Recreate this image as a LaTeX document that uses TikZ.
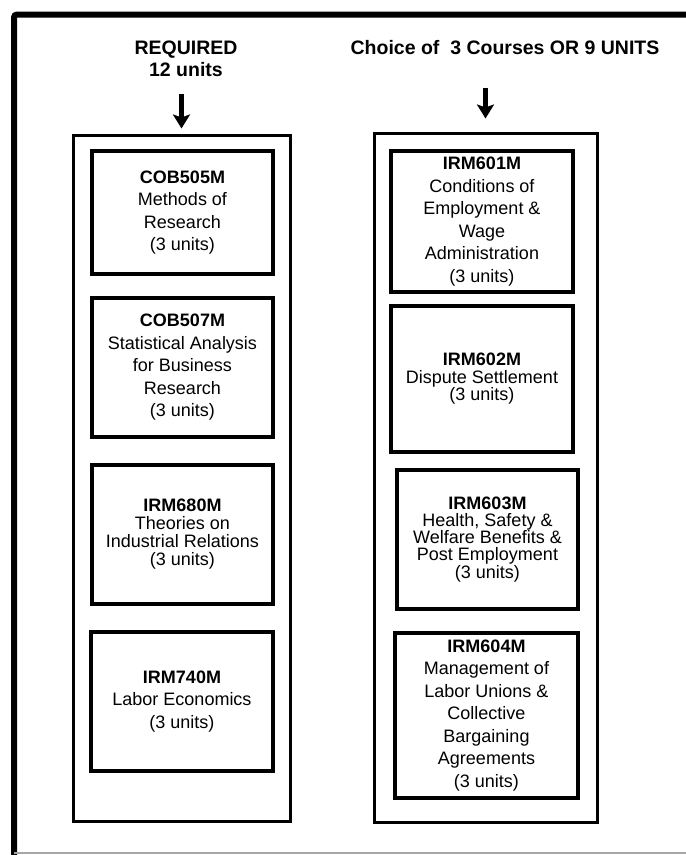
\documentclass[tikz,border=0pt]{standalone}
\usepackage{fontspec}
\setmainfont{Liberation Sans}
\usetikzlibrary{arrows.meta}

\tikzset{frame/.style={line width=6pt,rounded corners=3pt},
  column/.style={draw,line width=3pt,inner sep=0pt},
  course/.style={draw,line width=3.5pt,inner sep=0pt,align=center,font=\fontsize{18}{#1}\selectfont},
  course/.default=22.5,
  header/.style={align=center,font=\fontsize{19.5}{22}\selectfont\bfseries},
  pointer/.style={-{Stealth[length=14pt,width=17pt,inset=3pt]},line width=5pt}}

\begin{document}
\begin{tikzpicture}[x=1pt,y=-1pt]
        \useasboundingbox (0,0) rectangle (686,855);
        \draw[frame] (14,870) -- (14,14.5) -- (700,14.5);
        \draw[gray!70,line width=1.5pt] (14,853) -- (686,853);
        % headers
        \node[header] (req) at (186,59) {REQUIRED\\12 units};
        \node[header] (choice) at (505,48) {Choice of~~3 Courses OR 9 UNITS};
        % the two columns
        \node[column,minimum width=217pt,minimum height=686pt] (reqcol) at (181.5,478) {};
        \node[column,minimum width=223pt,minimum height=689pt] (optcol) at (485.5,477.5) {};
        \draw[pointer,shorten <=14pt,shorten >=5pt] (req.south -| reqcol.north) -- (reqcol.north);
        \draw[pointer,shorten <=29pt,shorten >=13pt] (choice.south -| optcol.north) -- (optcol.north);
        % required courses
        \node[course,minimum width=181pt,minimum height=123pt] (cob505) at (182.5,212.5)
            {\textbf{COB505M}\\Methods of\\Research\\(3 units)};
        \node[course,minimum width=181pt,minimum height=139pt] (cob507) at (182.5,367.5)
            {\textbf{COB507M}\\Statistical Analysis\\for Business\\Research\\(3 units)};
        \node[course=18,minimum width=181pt,minimum height=139pt] (irm680) at (182.5,534.5)
            {\textbf{IRM680M}\\Theories on\\Industrial Relations\\(3 units)};
        \node[course,minimum width=182pt,minimum height=139pt] (irm740) at (182,701.5)
            {\textbf{IRM740M}\\Labor Economics\\(3 units)};
        % elective courses
        \node[course,minimum width=182pt,minimum height=141pt] (irm601) at (482,221.5)
            {\textbf{IRM601M}\\Conditions of\\Employment \&\\Wage\\Administration\\(3 units)};
        \node[course=17.5,minimum width=182pt,minimum height=146pt] (irm602) at (482,379)
            {\textbf{IRM602M}\\Dispute Settlement\\(3 units)};
        \node[course=16.7,minimum width=181pt,minimum height=139pt] (irm603) at (487.5,539.5)
            {\textbf{IRM603M}\\Health, Safety \&\\Welfare Benefits \&\\Post Employment\\(3 units)};
        \node[course,minimum width=183pt,minimum height=165pt] (irm604) at (486.5,715.5)
            {\textbf{IRM604M}\\Management of\\Labor Unions \&\\Collective\\Bargaining\\Agreements\\(3 units)};
\end{tikzpicture}
\end{document}
